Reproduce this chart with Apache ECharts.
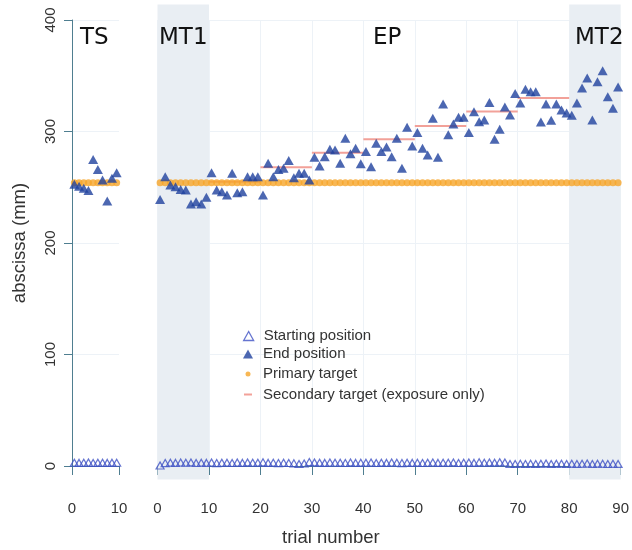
<!DOCTYPE html>
<html><head><meta charset="utf-8">
<script src="https://cdn.jsdelivr.net/npm/echarts@6/dist/echarts.min.js"></script>
<style>html,body{margin:0;padding:0;background:#fff}#c{width:632px;height:550px}</style>
</head><body><div id="c"></div>
<script>
// ---- data ----
const tsTrials = [1,2,3,4,5,6,7,8,9,10];
const mainTrials = Array.from({length: 90}, (_, i) => i + 1);
const tsStart = [3.0, 2.8, 2.9, 3.1, 2.7, 3.0, 2.9, 2.8, 3.0, 2.9];
const tsEnd = [252.6, 251, 249, 247, 275, 266, 256.5, 237.7, 258, 263];
const mainStart = [
 0.5, 2.6, 3.0, 2.8, 3.1, 2.9, 3.2, 2.7, 3.0, 2.8,
 3.1, 2.6, 2.9, 3.0, 2.7, 3.1, 2.8, 3.2, 2.9, 3.0,
 3.3, 2.8, 3.0, 2.6, 2.9, 2.7, 2.4, 1.8, 2.2, 3.5,
 3.2, 3.0, 2.8, 3.1, 2.9, 3.0, 2.7, 3.2, 2.8, 3.0,
 2.9, 3.1, 2.7, 3.0, 2.8, 3.1, 2.9, 2.6, 3.0, 2.8,
 3.0, 2.7, 2.9, 3.1, 2.8, 3.0, 2.9, 3.2, 2.7, 3.0,
 3.1, 2.8, 3.3, 2.9, 3.2, 3.0, 3.4, 3.1, 1.8, 1.9,
 2.0, 1.8, 2.1, 1.9, 2.0, 2.2, 1.9, 2.1, 2.0, 1.8,
 2.1, 1.9, 2.0, 2.2, 1.9, 2.1, 2.0, 1.8, 2.0, 1.9];
const mainEnd = [
 239, 259.5, 252, 250.5, 248, 247.5, 235, 237, 235, 241,
 263, 247.5, 246, 243, 262.5, 245, 246, 259.5, 259.5, 259.5,
 243, 271.5, 259.5, 266, 267, 274, 258.5, 262.5, 262.5, 256.5,
 277, 269, 277.4, 284, 283.4, 271.5, 294, 280, 285, 271,
 282, 268.4, 289.4, 282, 286, 277.4, 294, 267, 303.7, 287,
 299, 285, 279, 311.8, 277, 324.7, 297, 306.7, 312.7, 312.7,
 299, 317.8, 308.8, 310.3, 326, 293, 302, 322, 314.8, 334,
 325.5, 337.8, 335.7, 335.7, 308.5, 324.7, 310, 324.7, 319.3, 316.5,
 314.5, 325.5, 339, 348, 310.3, 344.7, 354.5, 331.2, 320.8, 340];
const primaryTarget = 254;
const secondaryBlockStart = [10, 20, 30, 40, 50, 60, 70];
const secondaryBlockEnd   = [20, 30, 40, 50, 60, 70, 80];
const secondaryTarget     = [255, 268, 281, 293, 305, 318, 330];
const shadedPhases = [[0, 10], [80, 90]];
const phaseLabels = ['TS', 'MT1', 'EP', 'MT2'];
const yTickStep = 100;

// ---- build ----
const C_START = '#3f51c4', C_END = '#1f419e', C_PRIM = '#f6a529', C_SEC = '#f2a199';
const C_AXIS = '#4f7e90', C_GRID = '#edf2f7', C_SHADE = '#e9eef3';
const FONT = 'Liberation Sans';
const pos = t => t - 0.5;
const mk = (trials, vals) => trials.map((t, i) => [pos(t), vals[i]]);

const yAxisBase = {
  type: 'value', min: 0, max: 400, interval: yTickStep,
  splitLine: {show: true, lineStyle: {color: C_GRID, width: 1}}
};
const xAxisBase = {
  type: 'value', offset: 17,
  axisLine: {show: true, lineStyle: {color: C_AXIS, width: 1}},
  axisTick: {show: true, length: 9, lineStyle: {color: C_AXIS}},
  axisLabel: {color: '#333', fontFamily: FONT, fontSize: 15, margin: 18},
};
const titleFont = '23px "DejaVu Sans"';
const legendText = {fontFamily: FONT, fontSize: 15, color: '#333'};

const option = {
  animation: false,
  backgroundColor: '#fff',
  grid: [
    {left: 72, right: 632 - 119, top: 20, bottom: 84},
    {left: 157.5, right: 8, top: 20, bottom: 84}
  ],
  xAxis: [
    Object.assign({}, xAxisBase, {gridIndex: 0, min: 0, max: 10, interval: 10, splitLine: {show: false}}),
    Object.assign({}, xAxisBase, {gridIndex: 1, min: 0, max: 90, interval: 10,
      splitLine: {show: true, lineStyle: {color: C_GRID}}})
  ],
  yAxis: [
    Object.assign({}, yAxisBase, {gridIndex: 0, offset: 2,
      axisLine: {show: true, lineStyle: {color: C_AXIS, width: 1}},
      axisTick: {show: true, length: 8, lineStyle: {color: C_AXIS}},
      axisLabel: {rotate: 90, color: '#333', fontFamily: FONT, fontSize: 15, margin: 12},
      name: 'abscissa (mm)', nameLocation: 'middle', nameGap: 41,
      nameTextStyle: {fontFamily: FONT, fontSize: 18.5, color: '#333'}}),
    Object.assign({}, yAxisBase, {gridIndex: 1,
      axisLine: {show: false}, axisTick: {show: false}, axisLabel: {show: false}})
  ],
  legend: [
    {data: [{name: 'Starting position', itemStyle: {color: 'rgba(255,255,255,0)', borderColor: C_START, borderWidth: 1.3}}],
     left: 243, top: 328.5, padding: 0, itemWidth: 10, itemHeight: 9,
     textStyle: Object.assign({padding: [0, 0, 0, 5]}, legendText)},
    {data: [{name: 'End position'}], left: 243, top: 346.5, padding: 0, itemWidth: 10, itemHeight: 9,
     textStyle: Object.assign({padding: [0, 0, 0, 5]}, legendText)},
    {data: [{name: 'Primary target', icon: 'circle'}], left: 245.5, top: 366.5, padding: 0, itemWidth: 5, itemHeight: 5,
     textStyle: Object.assign({padding: [0, 0, 0, 7.5]}, legendText)},
    {data: [{name: 'Secondary target (exposure only)', icon: 'rect', itemStyle: {color: C_SEC}}],
     left: 244, top: 387, padding: 0, itemWidth: 8, itemHeight: 2,
     textStyle: Object.assign({padding: [0, 0, 0, 6]}, legendText)}
  ],
  graphic: [
    {type: 'text', z: 100, left: 80, top: 27, style: {text: phaseLabels[0], font: titleFont, fill: '#111'}},
    {type: 'text', z: 100, left: 159, top: 27, style: {text: phaseLabels[1], font: titleFont, fill: '#111'}},
    {type: 'text', z: 100, left: 373, top: 27, style: {text: phaseLabels[2], font: titleFont, fill: '#111'}},
    {type: 'text', z: 100, left: 575, top: 27, style: {text: phaseLabels[3], font: titleFont, fill: '#111'}},
    {type: 'text', z: 100, left: 282, top: 528, style: {text: 'trial number', font: '18.5px "Liberation Sans"', fill: '#333'}}
  ],
  series: [
    {type: 'custom', name: 'shade', xAxisIndex: 1, yAxisIndex: 1, data: shadedPhases, z: 1, silent: true,
     renderItem: (params, api) => {
       const a = api.coord([api.value(0), 414]);
       const b = api.coord([api.value(1), -12]);
       return {type: 'rect', shape: {x: a[0], y: a[1], width: b[0] - a[0], height: b[1] - a[1]}, style: {fill: C_SHADE}};
     }},
    {type: 'custom', name: 'Secondary target (exposure only)', xAxisIndex: 1, yAxisIndex: 1, z: 2,
     data: secondaryBlockStart.map((s, i) => [s, secondaryBlockEnd[i], secondaryTarget[i]]),
     itemStyle: {color: C_SEC},
     renderItem: (params, api) => {
       const a = api.coord([api.value(0), api.value(2)]);
       const b = api.coord([api.value(1), api.value(2)]);
       return {type: 'line', shape: {x1: a[0], y1: a[1], x2: b[0], y2: b[1]}, style: {stroke: C_SEC, lineWidth: 2}};
     }},
    {type: 'scatter', name: 'Primary target', xAxisIndex: 0, yAxisIndex: 0, z: 3, clip: false,
     symbol: 'circle', symbolSize: 7, itemStyle: {color: C_PRIM},
     data: tsTrials.map(t => [pos(t), primaryTarget])},
    {type: 'scatter', name: 'Primary target', xAxisIndex: 1, yAxisIndex: 1, z: 3, clip: false,
     symbol: 'circle', symbolSize: 7, itemStyle: {color: C_PRIM},
     data: mainTrials.map(t => [pos(t), primaryTarget])},
    {type: 'scatter', name: 'Starting position', xAxisIndex: 0, yAxisIndex: 0, z: 4, clip: false,
     symbol: 'triangle', symbolSize: [8, 7],
     itemStyle: {color: 'rgba(255,255,255,0)', borderColor: C_START, borderWidth: 1.2},
     data: mk(tsTrials, tsStart)},
    {type: 'scatter', name: 'Starting position', xAxisIndex: 1, yAxisIndex: 1, z: 4, clip: false,
     symbol: 'triangle', symbolSize: [8, 7],
     itemStyle: {color: 'rgba(255,255,255,0)', borderColor: C_START, borderWidth: 1.2},
     data: mk(mainTrials, mainStart)},
    {type: 'scatter', name: 'End position', xAxisIndex: 0, yAxisIndex: 0, z: 5, clip: false,
     symbol: 'triangle', symbolSize: [10, 9], itemStyle: {color: C_END},
     data: mk(tsTrials, tsEnd)},
    {type: 'scatter', name: 'End position', xAxisIndex: 1, yAxisIndex: 1, z: 5, clip: false,
     symbol: 'triangle', symbolSize: [10, 9], itemStyle: {color: C_END},
     data: mk(mainTrials, mainEnd)}
  ]
};
const chart = echarts.init(document.getElementById('c'), null, {renderer: 'canvas'});
chart.setOption(option);
</script></body></html>
